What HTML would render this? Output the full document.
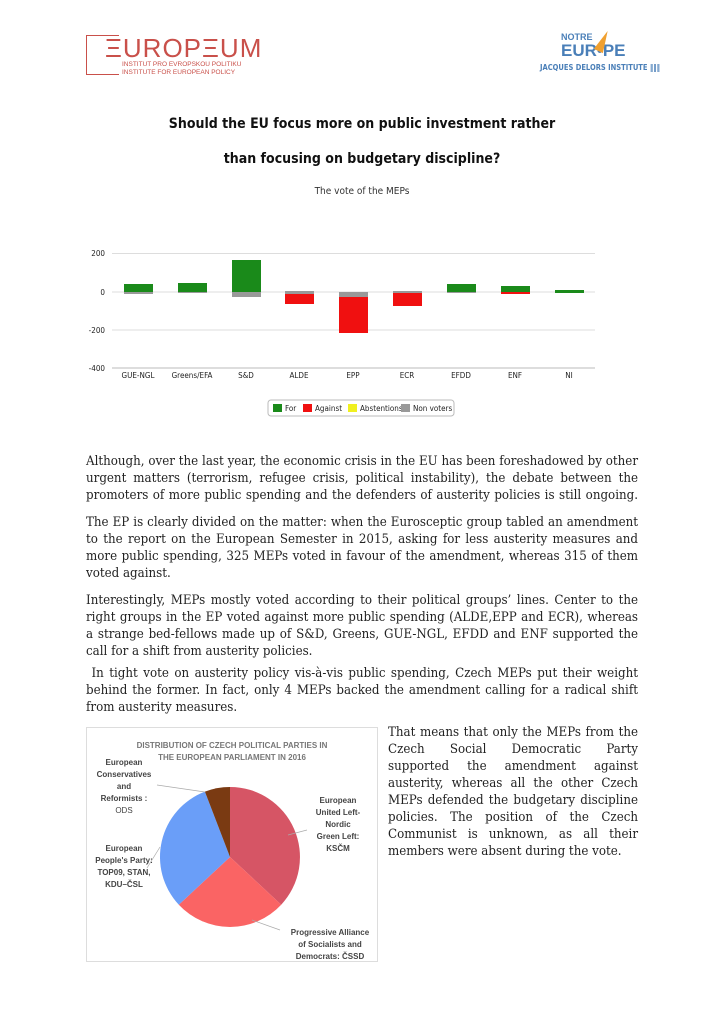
<!DOCTYPE html>
<html><head><meta charset="utf-8"><style>
body{margin:0;width:724px;height:1024px;background:#fff;position:relative;overflow:hidden;font-family:"Liberation Serif",serif;color:#222}
.l{position:absolute;left:86px;width:552px;font-family:"DejaVu Serif Condensed","DejaVu Serif",serif;font-size:13.2px;line-height:17px;height:17px;white-space:nowrap;text-align:justify;text-align-last:justify}
.l.e{text-align-last:left}
.r{left:388px;width:250px}
.t{position:absolute;left:0;width:724px;text-align:center;font-family:"DejaVu Sans Condensed","Liberation Sans",sans-serif;font-weight:bold;font-size:14px;color:#111}
</style></head><body>
<div style="position:absolute;left:86px;top:35px;width:32px;height:38px;border:1.5px solid #c9504a;border-right:none"></div>
<div style="position:absolute;left:105px;top:33px;font-family:'Liberation Sans',sans-serif;font-size:26px;color:#c9504a;letter-spacing:1px">ΞUROPΞUM</div>
<div style="position:absolute;left:122px;top:61px;font-family:'Liberation Sans',sans-serif;font-size:6.5px;color:#c9504a;line-height:8px">INSTITUT PRO EVROPSKOU POLITIKU<br>INSTITUTE FOR EUROPEAN POLICY</div>
<div style="position:absolute;left:561px;top:32px;font-family:'Liberation Sans',sans-serif;font-weight:bold;font-size:9px;color:#4a7fb8">NOTRE</div>
<div style="position:absolute;left:561px;top:41px;font-family:'Liberation Sans',sans-serif;font-weight:bold;font-size:17px;color:#4a7fb8">EUR•PE</div>
<div style="position:absolute;left:540px;top:63px;font-family:'DejaVu Sans Condensed',sans-serif;font-weight:bold;font-size:7.5px;color:#4a7fb8">JACQUES DELORS INSTITUTE ‖‖‖</div>
<div style="position:absolute;left:598px;top:30px;width:0;height:0;border-left:5px solid transparent;border-right:5px solid transparent;border-bottom:22px solid #f0a030;transform:rotate(25deg)"></div>

<div class="t" style="top:116px">Should the EU focus more on public investment rather</div>
<div class="t" style="top:151px">than focusing on budgetary discipline?</div>
<div style="position:absolute;left:0;width:724px;top:186px;text-align:center;font-family:'DejaVu Sans Condensed',sans-serif;font-size:10px;color:#333">The vote of the MEPs</div>

<svg style="position:absolute;left:0;top:0" width="724" height="430" font-family="DejaVu Sans Condensed, Liberation Sans, sans-serif" font-size="8" fill="#222">
<g stroke="#ddd" stroke-width="1">
<line x1="112" y1="253.5" x2="595" y2="253.5"/><line x1="112" y1="292" x2="595" y2="292"/><line x1="112" y1="330" x2="595" y2="330"/><line x1="112" y1="368" x2="595" y2="368" stroke="#bbb"/>
</g>
<g text-anchor="end"><text x="105" y="256">200</text><text x="105" y="295">0</text><text x="105" y="333">-200</text><text x="105" y="371">-400</text></g>
<g fill="#1a8a1a">
<rect x="124" y="284" width="29" height="8"/><rect x="178" y="283" width="29" height="9"/><rect x="232" y="260" width="29" height="32"/>
<rect x="447" y="284" width="29" height="8"/><rect x="501" y="286" width="29" height="6"/><rect x="555" y="290" width="29" height="3"/>
</g>
<g fill="#999"><rect x="124" y="292" width="29" height="2"/><rect x="178" y="292" width="29" height="1"/><rect x="232" y="292" width="29" height="5"/>
<rect x="285" y="291" width="29" height="3"/><rect x="339" y="292" width="29" height="5"/><rect x="393" y="291" width="29" height="2"/><rect x="447" y="292" width="29" height="1"/></g>
<g fill="#f01010"><rect x="285" y="294" width="29" height="10"/><rect x="339" y="297" width="29" height="36"/><rect x="393" y="293" width="29" height="13"/><rect x="501" y="292" width="29" height="2"/></g>
<g text-anchor="middle"><text x="138" y="378">GUE-NGL</text><text x="192" y="378">Greens/EFA</text><text x="246" y="378">S&amp;D</text><text x="299" y="378">ALDE</text><text x="353" y="378">EPP</text><text x="407" y="378">ECR</text><text x="461" y="378">EFDD</text><text x="515" y="378">ENF</text><text x="569" y="378">NI</text></g>
<rect x="268" y="400" width="186" height="16" rx="3" fill="#fff" stroke="#bbb"/>
<rect x="273" y="404" width="9" height="8" fill="#1a8a1a"/><text x="285" y="411">For</text>
<rect x="303" y="404" width="9" height="8" fill="#f01010"/><text x="315" y="411">Against</text>
<rect x="348" y="404" width="9" height="8" fill="#f0f020"/><text x="360" y="411">Abstentions</text>
<rect x="401" y="404" width="9" height="8" fill="#999"/><text x="413" y="411">Non voters</text>
</svg>

<div class="l" style="top:453px">Although, over the last year, the economic crisis in the EU has been foreshadowed by other</div>
<div class="l" style="top:470px">urgent matters (terrorism, refugee crisis, political instability), the debate between the</div>
<div class="l" style="top:487px">promoters of more public spending and the defenders of austerity policies is still ongoing.</div>
<div class="l" style="top:514px">The EP is clearly divided on the matter: when the Eurosceptic group tabled an amendment</div>
<div class="l" style="top:531px">to the report on the European Semester in 2015, asking for less austerity measures and</div>
<div class="l" style="top:548px">more public spending, 325 MEPs voted in favour of the amendment, whereas 315 of them</div>
<div class="l e" style="top:565px">voted against.</div>
<div class="l" style="top:592px">Interestingly, MEPs mostly voted according to their political groups’ lines. Center to the</div>
<div class="l" style="top:609px">right groups in the EP voted against more public spending (ALDE,EPP and ECR), whereas</div>
<div class="l" style="top:626px">a strange bed-fellows made up of S&amp;D, Greens, GUE-NGL, EFDD and ENF supported the</div>
<div class="l e" style="top:643px">call for a shift from austerity policies.</div>
<div class="l" style="top:665px">&nbsp;In tight vote on austerity policy vis-à-vis public spending, Czech MEPs put their weight</div>
<div class="l" style="top:682px">behind the former. In fact, only 4 MEPs backed the amendment calling for a radical shift</div>
<div class="l e" style="top:699px">from austerity measures.</div>

<div class="l r" style="top:724px">That means that only the MEPs from the</div>
<div class="l r" style="top:741px">Czech Social Democratic Party</div>
<div class="l r" style="top:758px">supported the amendment against</div>
<div class="l r" style="top:775px">austerity, whereas all the other Czech</div>
<div class="l r" style="top:792px">MEPs defended the budgetary discipline</div>
<div class="l r" style="top:809px">policies. The position of the Czech</div>
<div class="l r" style="top:826px">Communist is unknown, as all their</div>
<div class="l r e" style="top:843px">members were absent during the vote.</div>

<svg style="position:absolute;left:86px;top:727px" width="292" height="235" font-family="Liberation Sans, DejaVu Sans, sans-serif" font-size="8" fill="#333">
<rect x="0.5" y="0.5" width="291" height="234" fill="#fff" stroke="#ddd"/>
<g font-weight="bold" fill="#777" text-anchor="middle" font-size="8"><text x="146" y="21">DISTRIBUTION OF CZECH POLITICAL PARTIES IN</text><text x="146" y="33">THE EUROPEAN PARLIAMENT IN 2016</text></g>
<g transform="translate(-86,-727)">
<path d="M230,857 L230,787 A70,70 0 0 1 281.2,904.7 Z" fill="#d65565"/>
<path d="M230,857 L281.2,904.7 A70,70 0 0 1 178.8,904.7 Z" fill="#fa6464"/>
<path d="M230,857 L178.8,904.7 A70,70 0 0 1 204.9,791.6 Z" fill="#6a9ef8"/>
<path d="M230,857 L204.9,791.6 A70,70 0 0 1 230,787 Z" fill="#7a3a12"/>
<g stroke="#aaa" stroke-width="0.7" fill="none"><line x1="157" y1="785" x2="205" y2="792"/><line x1="147" y1="868" x2="160" y2="847"/><line x1="307" y1="830" x2="288" y2="835"/><line x1="280" y1="930" x2="252" y2="920"/></g>
</g>
<g text-anchor="middle" font-weight="bold" fill="#444">
<text x="38" y="38">European</text><text x="38" y="50">Conservatives</text><text x="38" y="62">and</text><text x="38" y="74">Reformists :</text><text x="38" y="86" font-weight="normal">ODS</text>
<text x="38" y="124">European</text><text x="38" y="136">People's Party:</text><text x="38" y="148">TOP09, STAN,</text><text x="38" y="160">KDU–ČSL</text>
<text x="252" y="76">European</text><text x="252" y="88">United Left-</text><text x="252" y="100">Nordic</text><text x="252" y="112">Green Left:</text><text x="252" y="124">KSČM</text>
<text x="244" y="208">Progressive Alliance</text><text x="244" y="220">of Socialists and</text><text x="244" y="232">Democrats: ČSSD</text>
</g>
</svg>
</body></html>
